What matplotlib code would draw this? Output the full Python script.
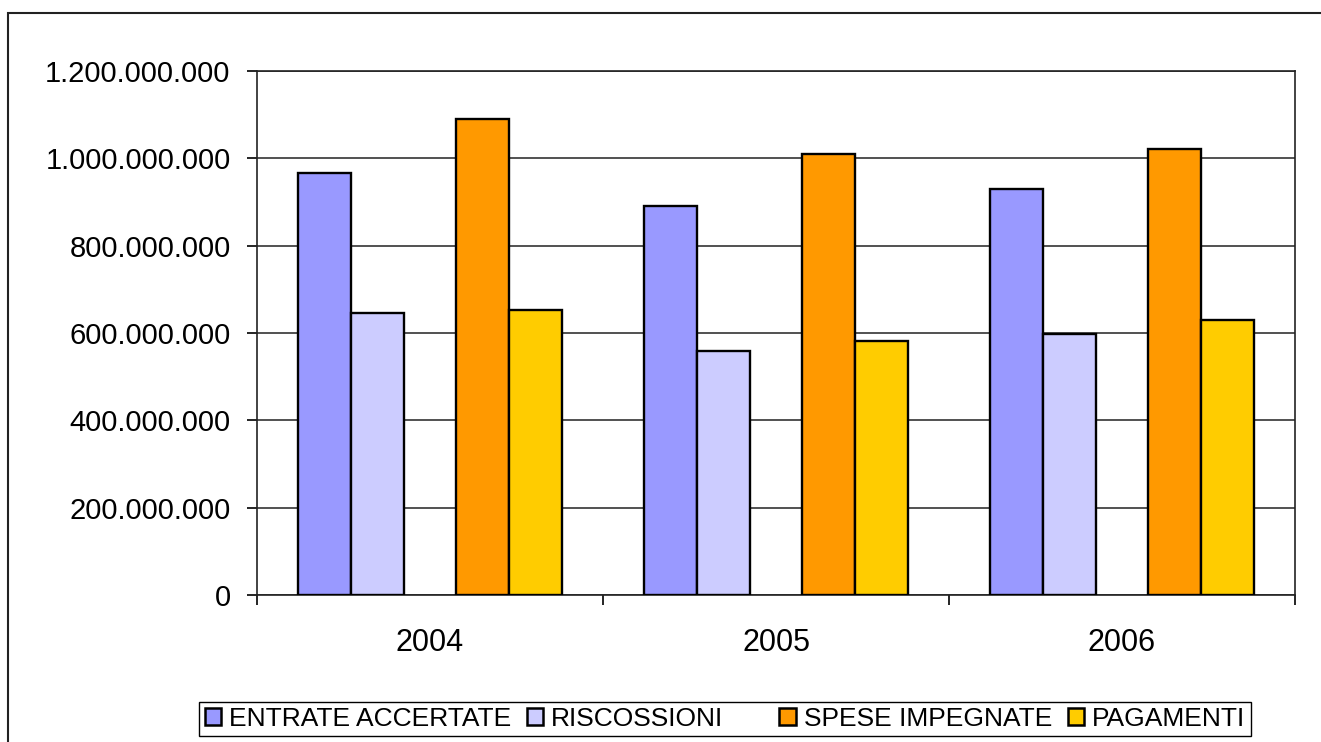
import numpy as np
import matplotlib
matplotlib.use('Agg')
import matplotlib.pyplot as plt
from matplotlib.patches import Patch, Rectangle
from matplotlib.ticker import FuncFormatter, FixedLocator

plt.rcParams['font.family'] = ['Liberation Sans', 'DejaVu Sans']

years = ['2004', '2005', '2006']
entrate = [966000000, 891000000, 930000000]
riscossioni = [646000000, 559000000, 598000000]
spese = [1090000000, 1010000000, 1021000000]
pagamenti = [653000000, 582000000, 630000000]

names = ['ENTRATE ACCERTATE', 'RISCOSSIONI', 'SPESE IMPEGNATE', 'PAGAMENTI']
colors = ['#9999FF', '#CCCCFF', '#FF9900', '#FFCC00']

fig = plt.figure(figsize=(13.21, 7.42), dpi=100)
ax = fig.add_axes([257/1321, 1-595/742, (1295-257)/1321, (595-71)/742])

# outer chart frame
fig.patches.append(Rectangle((8/1321, -0.05), 1.2, 1.05-13/742, transform=fig.transFigure,
                             fill=False, edgecolor='#222222', linewidth=1.5))

x = np.arange(len(years))
w = 0.153
offsets = [-2*w, -w, w, 2*w]  # empty slot in the middle
for vals, off, c, n in zip([entrate, riscossioni, spese, pagamenti], offsets, colors, names):
    ax.bar(x + off, vals, width=w, color=c, edgecolor='black', linewidth=1.7, label=n, zorder=3)

ax.set_xlim(-0.5, 2.5)
ax.set_ylim(0, 1200000000)
ax.set_yticks(np.arange(0, 1200000001, 200000000))
ax.yaxis.set_major_formatter(FuncFormatter(lambda v, p: f'{int(v):,}'.replace(',', '.')))
ax.grid(axis='y', color='#333333', linewidth=1.2, zorder=0)

ax.set_xticks(x)
ax.set_xticklabels(years)
ax.xaxis.set_minor_locator(FixedLocator([-0.5, 0.5, 1.5, 2.5]))
ax.tick_params(axis='x', which='major', length=0, pad=24, labelsize=22)
ax.tick_params(axis='x', which='minor', length=7, width=1.2, direction='out')
ax.tick_params(axis='y', length=7, width=1.2, labelsize=21, pad=12)

for s in ax.spines.values():
    s.set_color('#222222')
    s.set_linewidth(1.2)

handles = [Patch(facecolor=colors[0], edgecolor='black', linewidth=1.8),
           Patch(facecolor=colors[1], edgecolor='black', linewidth=1.8),
           Patch(facecolor='none', edgecolor='none'),
           Patch(facecolor=colors[2], edgecolor='black', linewidth=1.8),
           Patch(facecolor=colors[3], edgecolor='black', linewidth=1.8)]
labels = [names[0], names[1], '', names[2], names[3]]
leg = fig.legend(handles, labels, loc='center', bbox_to_anchor=(725/1321, 1-719/742), ncol=5,
                 fontsize=19, handlelength=0.62, handleheight=0.62, handletextpad=0.3,
                 columnspacing=0.6, fancybox=False, borderpad=0.2, borderaxespad=0,
                 framealpha=1)
leg.get_frame().set_edgecolor('black')
leg.get_frame().set_linewidth(1.0)

fig.savefig('out.png', dpi=100)
